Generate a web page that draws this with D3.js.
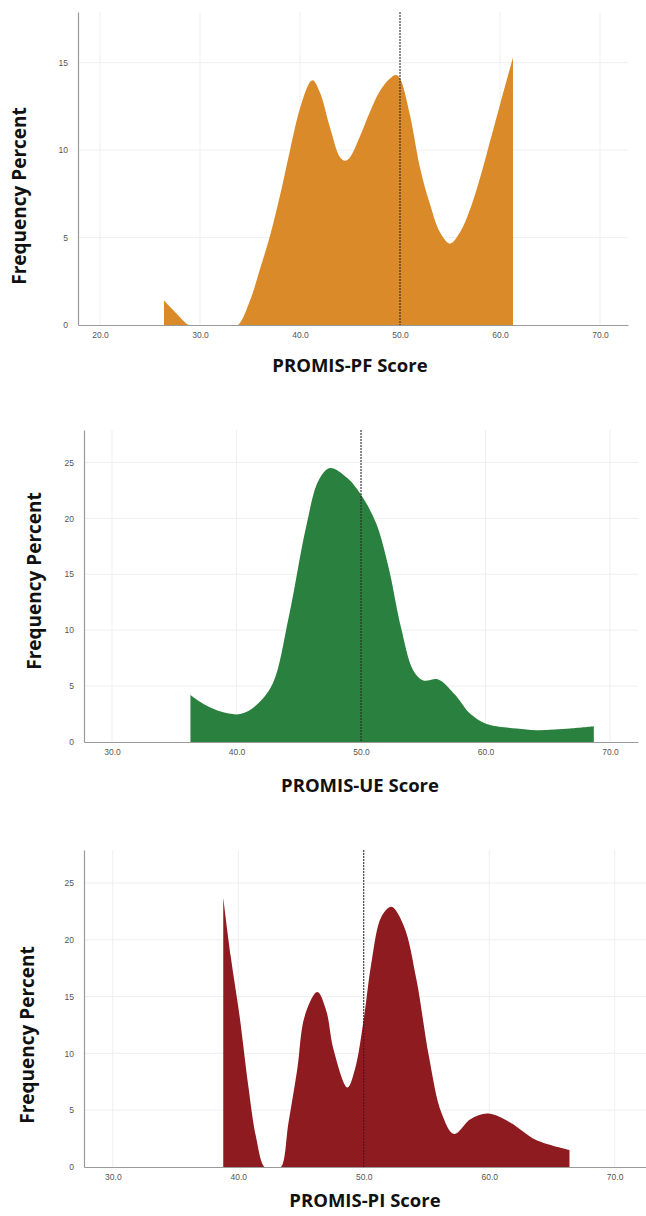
<!DOCTYPE html>
<html>
<head>
<meta charset="utf-8">
<script src="https://cdn.jsdelivr.net/npm/d3@7"></script>
<style>
  body { margin: 0; background: #fff; }
  svg { display: block; }
</style>
</head>
<body>
<svg id="chart" width="646" height="1216"></svg>
<script>
// PROMIS-PF density (score, frequency percent)
const pfScores = [26.4, 27.5, 28.9, 29.6, 33.1, 33.8, 35, 36, 37, 38, 39, 40, 41, 41.3, 42, 43, 44, 44.5, 45, 46, 47, 48, 49, 49.6, 50, 51, 52, 53, 54, 55, 56, 57, 58, 59, 60, 61.3];
const pfValues = [1.4, 0.75, 0, 0, 0, 0, 1.4, 3.2, 5.1, 7.4, 10.0, 12.4, 13.9, 14.0, 13.3, 11.3, 9.6, 9.4, 9.6, 10.8, 12.2, 13.4, 14.1, 14.3, 14.1, 12.0, 9.0, 6.9, 5.3, 4.65, 5.3, 6.6, 8.4, 10.5, 12.6, 15.3];

// PROMIS-UE density
const ueScores = [36.3, 37.5, 38.8, 40.3, 41.6, 42.9, 44.2, 45.6, 46.6, 47.5, 48.9, 50.0, 51.2, 52.2, 53.2, 54.2, 55.0, 56.2, 57.5, 58.8, 60.1, 62.5, 64.1, 66.8, 68.7];
const ueValues = [4.2, 3.3, 2.7, 2.5, 3.3, 5.2, 11.2, 19.3, 23.4, 24.5, 23.6, 22.1, 19.6, 15.7, 10.3, 6.4, 5.5, 5.6, 4.3, 2.5, 1.6, 1.2, 1.05, 1.2, 1.4];

// PROMIS-PI density
const piScores = [38.8, 39.4, 40.1, 40.8, 41.4, 42.1, 42.6, 42.9, 43.4, 44.0, 44.7, 45.3, 46.3, 47.0, 47.6, 48.7, 49.3, 50.0, 50.6, 51.4, 52.2, 53.2, 54.2, 55.2, 56.2, 57.2, 58.5, 59.9, 61.7, 63.7, 66.4];
const piValues = [23.7, 18.5, 13.3, 7.1, 2.7, 0, 0, 0, 0, 3.9, 8.6, 13.3, 15.4, 13.8, 10.3, 7.0, 8.6, 13.0, 17.9, 22.0, 22.9, 21.2, 16.5, 9.7, 4.75, 2.9, 4.2, 4.7, 3.9, 2.4, 1.5];

const xTicks = [20, 30, 40, 50, 60, 70];
const yTicks = [0, 5, 10, 15, 20, 25];
const refScore = 50;

const panels = [
  { id: 'pf', scores: pfScores, values: pfValues, color: '#DB8A2A', title: 'PROMIS-PF Score',
    left: 78, right: 628, top: 12, bottom: 325, xDom: [17.8, 72.8], yMax: 17.9,
    xTitleY: 372, xTitleX: 350, yTitleX: 26, yTitleY: 196 },
  { id: 'ue', scores: ueScores, values: ueValues, color: '#2A813F', title: 'PROMIS-UE Score',
    left: 84, right: 638, top: 430, bottom: 742, xDom: [27.75, 72.25], yMax: 27.9,
    xTitleY: 792, xTitleX: 360, yTitleX: 41, yTitleY: 581 },
  { id: 'pi', scores: piScores, values: piValues, color: '#8E1B1F', title: 'PROMIS-PI Score',
    left: 84, right: 646, top: 850, bottom: 1167, xDom: [27.7, 72.5], yMax: 27.9,
    xTitleY: 1207, xTitleX: 365, yTitleX: 34, yTitleY: 1035 }
];

const svg = d3.select('#chart');
const defs = svg.append('defs');

panels.forEach(p => {
  const x = d3.scaleLinear().domain(p.xDom).range([p.left, p.right]);
  const y = d3.scaleLinear().domain([0, p.yMax]).range([p.bottom, p.top]);
  const g = svg.append('g');

  const xt = xTicks.filter(t => t > p.xDom[0] && t < p.xDom[1]);
  const yt = yTicks.filter(t => t <= p.yMax);

  // clip so the smoothed curve never dips under the baseline
  defs.append('clipPath').attr('id', 'clip-' + p.id)
    .append('rect')
    .attr('x', p.left).attr('y', p.top)
    .attr('width', p.right - p.left).attr('height', p.bottom - p.top);

  // faint gridlines
  g.append('g').selectAll('line').data(xt).join('line')
    .attr('x1', d => x(d)).attr('x2', d => x(d))
    .attr('y1', p.top).attr('y2', p.bottom)
    .attr('stroke', '#efefef').attr('stroke-width', 1);
  g.append('g').selectAll('line').data(yt.filter(d => d > 0)).join('line')
    .attr('x1', p.left).attr('x2', p.right)
    .attr('y1', d => y(d)).attr('y2', d => y(d))
    .attr('stroke', '#efefef').attr('stroke-width', 1);

  // density area
  const pts = p.scores.map((s, i) => [s, p.values[i]]);
  const area = d3.area()
    .x(d => x(d[0]))
    .y0(y(0))
    .y1(d => y(d[1]))
    .curve(d3.curveCatmullRom.alpha(0.5));
  g.append('path').datum(pts)
    .attr('d', area)
    .attr('clip-path', `url(#clip-${p.id})`)
    .attr('fill', p.color);

  // reference line at 50
  g.append('line')
    .attr('x1', x(refScore)).attr('x2', x(refScore))
    .attr('y1', p.top).attr('y2', p.bottom)
    .attr('stroke', '#222').attr('stroke-width', 1)
    .attr('stroke-dasharray', '2,1');

  // axes
  const xAxis = g.append('g')
    .attr('transform', `translate(0,${p.bottom})`)
    .call(d3.axisBottom(x).tickValues(xt).tickSize(0).tickPadding(7).tickFormat(d3.format('.1f')));
  xAxis.select('.domain').attr('stroke', '#9a9a9a').attr('stroke-width', 1.2);

  const yAxis = g.append('g')
    .attr('transform', `translate(${p.left},0)`)
    .call(d3.axisLeft(y).tickValues(yt).tickSize(0).tickPadding(10));
  yAxis.select('.domain').attr('stroke', '#9a9a9a').attr('stroke-width', 1.2);

  g.selectAll('.tick text')
    .attr('fill', '#555')
    .style('font-family', '"Liberation Sans", Arial, sans-serif')
    .style('font-size', '8.5px');

  // titles
  g.append('text')
    .attr('x', p.xTitleX).attr('y', p.xTitleY)
    .attr('text-anchor', 'middle')
    .style('font-family', '"Open Sans", sans-serif')
    .style('font-weight', 'bold')
    .style('font-size', '18.5px')
    .attr('fill', '#111')
    .text(p.title);

  g.append('text')
    .attr('transform', `translate(${p.yTitleX},${p.yTitleY}) rotate(-90)`)
    .attr('text-anchor', 'middle')
    .style('font-family', '"Open Sans", sans-serif')
    .style('font-weight', 'bold')
    .style('font-size', '19px')
    .attr('fill', '#111')
    .text('Frequency Percent');
});
</script>
</body>
</html>
